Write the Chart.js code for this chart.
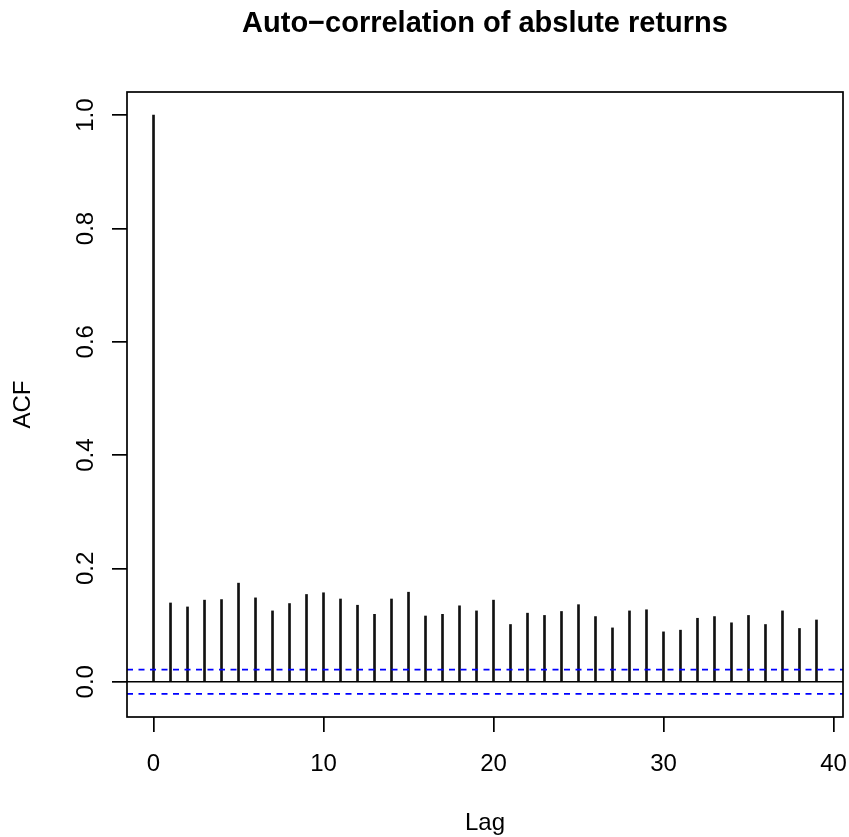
<!DOCTYPE html>
<html>
<head>
<meta charset="utf-8">
<script src="https://cdn.jsdelivr.net/npm/chart.js@4.4.1/dist/chart.umd.min.js"></script>
<style>
  html, body { margin: 0; padding: 0; background: #ffffff; }
  canvas { display: block; }
</style>
</head>
<body>
<canvas id="c" width="849" height="837"></canvas>
<script>
// ---- data ----
const chartTitle = "Auto\u2212correlation of abslute returns";
const xAxisTitle = "Lag";
const yAxisTitle = "ACF";
const lags = [0,1,2,3,4,5,6,7,8,9,10,11,12,13,14,15,16,17,18,19,20,21,22,23,24,25,26,27,28,29,30,31,32,33,34,35,36,37,38,39];
const acfValues = [1.0, 0.139, 0.132, 0.144, 0.145, 0.174, 0.148, 0.125, 0.138, 0.154,
                   0.157, 0.146, 0.135, 0.119, 0.146, 0.158, 0.116, 0.119, 0.134, 0.125,
                   0.144, 0.101, 0.121, 0.117, 0.124, 0.136, 0.115, 0.095, 0.125, 0.127,
                   0.088, 0.091, 0.112, 0.115, 0.104, 0.117, 0.101, 0.125, 0.094, 0.109];
const confLimit = 0.0214;
const xTickValues = [0, 10, 20, 30, 40];
const yTickValues = [0.0, 0.2, 0.4, 0.6, 0.8, 1.0];
const yTickLabels = ["0.0", "0.2", "0.4", "0.6", "0.8", "1.0"];

// R-style axis ranges (4% extension)
const xLo = Math.min(...lags), xHi = Math.max(...lags);
const xExt = (xHi - xLo) * 0.04;
const yLo = Math.min(-confLimit, ...acfValues), yHi = Math.max(confLimit, ...acfValues);
const yExt = (yHi - yLo) * 0.04;
const xMin = xLo - xExt, xMax = xHi + xExt;
const yMin = yLo - yExt, yMax = yHi + yExt;

const FONT = "'Liberation Sans', Arial, Helvetica, sans-serif";

const rDecor = {
  id: 'rDecor',
  afterDraw(chart) {
    const ctx = chart.ctx;
    const a = chart.chartArea;
    const ys = chart.scales.y;
    ctx.save();
    // box
    ctx.strokeStyle = '#000';
    ctx.lineWidth = 1.7;
    ctx.strokeRect(a.left, a.top, a.right - a.left, a.bottom - a.top);
    // title
    ctx.fillStyle = '#000';
    ctx.font = "bold 29px " + FONT;
    ctx.textAlign = 'center';
    ctx.textBaseline = 'alphabetic';
    ctx.fillText(chartTitle, (a.left + a.right) / 2, 32);
    // rotated y tick labels
    ctx.font = "24px " + FONT;
    yTickValues.forEach((v, i) => {
      const py = ys.getPixelForValue(v);
      ctx.save();
      ctx.translate(93, py);
      ctx.rotate(-Math.PI / 2);
      ctx.textAlign = 'center';
      ctx.textBaseline = 'alphabetic';
      ctx.fillText(yTickLabels[i], 0, 0);
      ctx.restore();
    });
    ctx.restore();
  }
};

new Chart(document.getElementById('c'), {
  type: 'bar',
  data: {
    datasets: [
      {
        type: 'bar',
        data: lags.map((l, i) => ({ x: l, y: acfValues[i] })),
        backgroundColor: '#111',
        borderWidth: 0,
        barThickness: 2,
        order: 3
      },
      {
        type: 'line',
        data: [{ x: xMin, y: 0 }, { x: xMax, y: 0 }],
        borderColor: '#000',
        borderWidth: 1.7,
        pointRadius: 0,
        order: 2
      },
      {
        type: 'line',
        data: [{ x: xMin, y: confLimit }, { x: xMax, y: confLimit }],
        borderColor: '#0000ff',
        borderWidth: 1.7,
        borderDash: [6, 5.5],
        pointRadius: 0,
        order: 1
      },
      {
        type: 'line',
        data: [{ x: xMin, y: -confLimit }, { x: xMax, y: -confLimit }],
        borderColor: '#0000ff',
        borderWidth: 1.7,
        borderDash: [6, 5.5],
        pointRadius: 0,
        order: 1
      }
    ]
  },
  options: {
    responsive: false,
    devicePixelRatio: 1,
    animation: false,
    layout: { padding: { top: 92, right: 6, left: 0, bottom: 0 } },
    plugins: { legend: { display: false }, tooltip: { enabled: false }, title: { display: false } },
    scales: {
      x: {
        type: 'linear',
        min: xMin,
        max: xMax,
        offset: false,
        afterBuildTicks: s => { s.ticks = xTickValues.map(v => ({ value: v })); },
        afterFit: s => { s.height = 120; s.paddingLeft = 0; s.paddingRight = 0; },
        grid: { drawOnChartArea: false, drawTicks: true, tickLength: 15, color: '#000', lineWidth: 1.7, offset: false },
        border: { display: false },
        ticks: { color: '#000', font: { family: FONT, size: 24 }, padding: 18, maxRotation: 0, autoSkip: false },
        title: { display: true, text: xAxisTitle, color: '#000', font: { family: FONT, size: 24 }, padding: { top: 0, bottom: -1 } }
      },
      y: {
        type: 'linear',
        min: yMin,
        max: yMax,
        afterBuildTicks: s => { s.ticks = yTickValues.map(v => ({ value: v })); },
        afterFit: s => { s.width = 127; s.paddingTop = 0; s.paddingBottom = 0; },
        grid: { drawOnChartArea: false, drawTicks: true, tickLength: 15, color: '#000', lineWidth: 1.7 },
        border: { display: false },
        ticks: { display: false },
        title: { display: true, text: yAxisTitle, color: '#000', font: { family: FONT, size: 24 }, padding: { top: 9, bottom: 0 } }
      }
    }
  },
  plugins: [rDecor]
});
</script>
</body>
</html>
